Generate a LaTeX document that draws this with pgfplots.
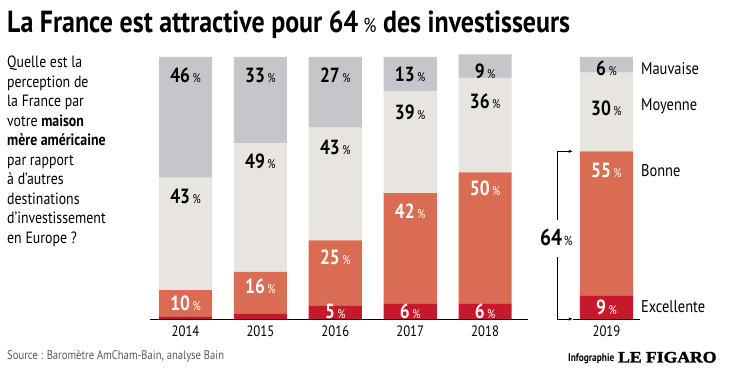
\documentclass[border=0pt]{standalone}
\usepackage{fontspec}
\setmainfont{PT Sans}[FakeStretch=0.85]
\newfontfamily\figfont{Liberation Serif}[FakeStretch=1.1,FakeBold=2]
\usepackage{pgfplots}
\pgfplotsset{compat=1.18}
\usepackage{pgfplotstable}
\usetikzlibrary{arrows.meta}

\definecolor{cexc}{RGB}{200,24,44}
\definecolor{cbon}{RGB}{218,108,84}
\definecolor{cmoy}{RGB}{232,229,224}
\definecolor{cmau}{RGB}{197,198,201}
\definecolor{csrc}{RGB}{90,90,90}

\pgfplotstableread{
x exc bon moy mau
0 1 10 43 46
1 2 16 49 33
2 5 25 43 27
3 6 42 39 13
4 6 50 36 9
5.62 9 55 30 6
}\data

% label positions (y in %) and shown values
\pgfplotstableread{
x y v
2 3 5
3 3 6
4 3 6
5.62 4.5 9
}\lexc
\pgfplotstableread{
x y v
0 6 10
1 12.5 16
2 23.5 25
3 41.2 42
4 50 50
5.62 56.5 55
}\lbon
\pgfplotstableread{
x y v
0 46.6 43
1 60 49
2 65.6 43
3 78.8 39
4 83 36
5.62 80.5 30
}\lmoy
\pgfplotstableread{
x y v
0 93 46
1 93 33
2 93 27
3 93.5 13
4 94.6 9
5.62 95.8 6
}\lmau

\pgfplotsset{
  myax/.style={
    scale only axis,
    width=501.85pt, height=262pt,
    at={(148.05pt,58pt)}, anchor=south west,
    xmin=-0.5, xmax=6.2, ymin=0, ymax=100,
    axis line style={draw=none},
    major tick length=0pt,
    ytick=\empty,
    clip=false,
  },
  lab/.style={
    draw=none, mark=none,
    nodes near coords={\textbf{\pgfplotspointmeta}\kern2.5pt{\fontsize{12.5}{12.5}\selectfont\%}},
    point meta=explicit symbolic,
    every node near coord/.append style={anchor=center, inner sep=0pt,
      font=\fontsize{20.5}{20.5}\selectfont, text=#1},
  },
}

\begin{document}
\begin{tikzpicture}[x=1pt,y=1pt]
\path[use as bounding box] (0,0) rectangle (736,377);

\node[anchor=base west, inner sep=0pt, font=\fontsize{30.5}{32}\selectfont\bfseries]
  at (7,344) {La France est attractive pour 64\,{\fontsize{20}{20}\selectfont\mdseries\%} des investisseurs};

\node[anchor=north west, inner sep=0pt, align=left,
  font=\fontsize{16.3}{19.5}\selectfont] at (7,321)
  {Quelle est la\\perception de\\la France par\\votre \textbf{maison}\\\textbf{mère américaine}\\par rapport\\à d'autres\\destinations\\d'investissement\\en Europe ?};

\node[anchor=base west, inner sep=0pt, font=\fontsize{12.5}{13}\selectfont, text=csrc]
  at (7,17) {Source : Baromètre AmCham-Bain, analyse Bain};

\node[anchor=base west, inner sep=0pt, font=\fontsize{11}{12}\selectfont\bfseries]
  at (568,15) {Infographie};
\node[anchor=base west, inner sep=0pt, font=\figfont\fontsize{16}{16}\selectfont\bfseries]
  at (618,14.5) {LE FIGARO};

\begin{axis}[myax, ybar stacked, bar width=0.71, xtick=\empty]
\addplot[fill=cexc, draw=none] table[x=x, y=exc] {\data};
\addplot[fill=cbon, draw=none] table[x=x, y=bon] {\data};
\addplot[fill=cmoy, draw=none] table[x=x, y=moy] {\data};
\addplot[fill=cmau, draw=none] table[x=x, y=mau] {\data};
\end{axis}

\begin{axis}[myax,
  xtick={0,1,2,3,4,5.62},
  xticklabels={2014,2015,2016,2017,2018,2019},
  xticklabel style={font=\fontsize{15}{15}\selectfont, yshift=-3pt},
]
\addplot[lab=white] table[x=x, y=y, meta=v] {\lexc};
\addplot[lab=white] table[x=x, y=y, meta=v] {\lbon};
\addplot[lab=black] table[x=x, y=y, meta=v] {\lmoy};
\addplot[lab=black] table[x=x, y=y, meta=v] {\lmau};

\draw[black, line width=0.9pt] (axis cs:-0.475,0) -- (axis cs:4.573,0);
\draw[black, line width=0.9pt] (axis cs:5.17,0) -- (axis cs:6.07,0);

% bracket 64 %
\draw[black, line width=0.7pt, -{Latex[length=4pt,width=3.5pt]}] (axis cs:4.96,37.8) -- (axis cs:4.96,64) -- (axis cs:5.17,64);
\draw[black, line width=0.7pt, -{Latex[length=4pt,width=3.5pt]}] (axis cs:4.96,23.7) -- (axis cs:4.96,0) -- (axis cs:5.17,0);
\node[anchor=center, inner sep=0pt] at (axis cs:4.95,31)
  {{\fontsize{23}{23}\selectfont\bfseries 64}\,{\fontsize{13}{13}\selectfont\%}};

\node[anchor=west, inner sep=0pt, font=\fontsize{17}{17}\selectfont] at (axis cs:6.08,95.4) {Mauvaise};
\node[anchor=west, inner sep=0pt, font=\fontsize{17}{17}\selectfont] at (axis cs:6.08,81) {Moyenne};
\node[anchor=west, inner sep=0pt, font=\fontsize{17}{17}\selectfont] at (axis cs:6.08,56.5) {Bonne};
\node[anchor=west, inner sep=0pt, font=\fontsize{17}{17}\selectfont] at (axis cs:6.08,4.6) {Excellente};
\end{axis}
\end{tikzpicture}
\end{document}
